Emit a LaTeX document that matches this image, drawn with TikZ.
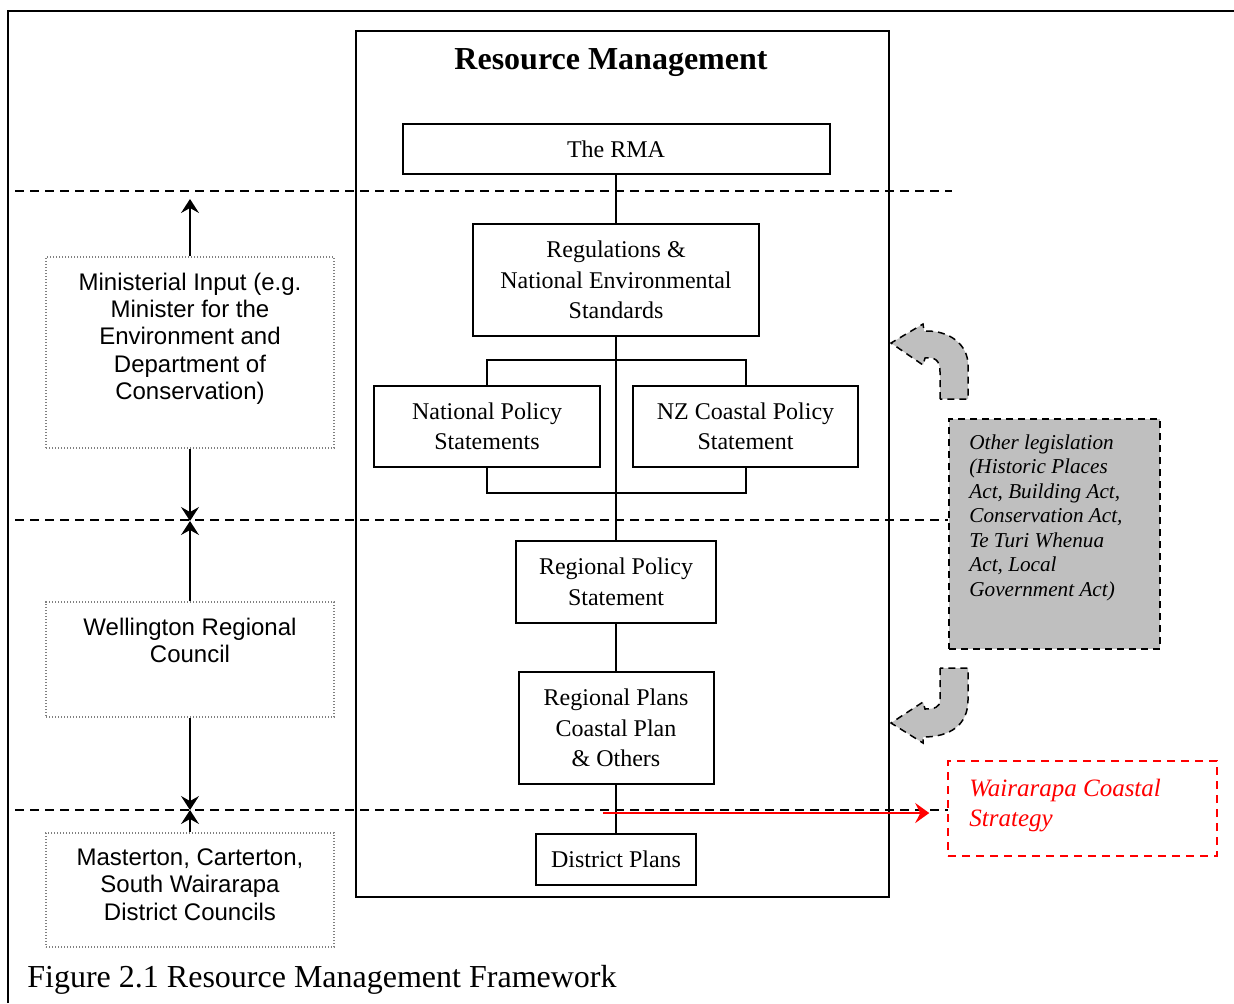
\documentclass[tikz,border=0pt]{standalone}
\usepackage{fontspec}
\setmainfont{Liberation Serif}
\newfontfamily\arialfont{Liberation Sans}
\usetikzlibrary{arrows.meta}

\begin{document}
\begin{tikzpicture}[x=0.5pt,y=-0.5pt,
  box/.style={draw,line width=1pt,inner sep=0pt,align=center,font=\fontsize{12}{15.25}\selectfont},
  leftbox/.style={draw=gray,dash pattern=on 0.6pt off 0.9pt,line width=0.6pt,minimum width=144pt,inner sep=0pt},
  lefttext/.style={anchor=north,inner sep=0pt,align=center,font=\arialfont\fontsize{12}{13.65}\selectfont},
  divider/.style={dash pattern=on 4.5pt off 3pt,line width=0.75pt},
  link/.style={line width=1pt},
  uparrow/.style={line width=0.75pt,-{Stealth[length=7pt,width=9pt,inset=2.5pt]}},
  bendarrow/.style={fill=gray!50,draw,dash pattern=on 3.5pt off 2.5pt,line width=0.75pt}]
\useasboundingbox (0,0) rectangle (1234,1003);

\draw[line width=1pt] (8,1003) -- (8,11) -- (1234,11);
\node[anchor=base west,inner sep=0pt,font=\fontsize{16}{19}\selectfont] (Caption) at (27,987) {Figure 2.1 Resource Management Framework};

\node[draw,line width=0.8pt,minimum width=266.5pt,minimum height=433pt,inner sep=0pt] (RMFrame) at (622.5,464) {};
\node[anchor=base,inner sep=0pt,font=\bfseries\fontsize{16}{19}\selectfont] (Title) at (611,69) {Resource Management};

\node[box,minimum width=213.5pt,minimum height=25pt] (RMA) at (616,149) {The RMA};
\node[box,minimum width=143pt,minimum height=56pt] (Reg) at (616,280) {Regulations \&\\National Environmental\\Standards};
\node[box,minimum width=113pt,minimum height=40.5pt] (NPS) at (487,426.5) {National Policy\\Statements};
\node[box,minimum width=112.5pt,minimum height=40.5pt] (NZCPS) at (745.5,426.5) {NZ Coastal Policy\\Statement};
\node[box,minimum width=100pt,minimum height=41pt] (RPS) at (616,582) {Regional Policy\\Statement};
\node[box,minimum width=97.5pt,minimum height=56pt] (RPlans) at (616,728) {Regional Plans\\Coastal Plan\\\& Others};
\node[box,minimum width=80pt,minimum height=25.5pt] (DP) at (616,859.5) {District Plans};

\draw[link] (RMA) -- (Reg);
\draw[link] (Reg) -- (RPS);
\draw[link] (RPS) -- (RPlans);
\draw[link] (RPlans) -- (DP);
\draw[link] (NPS.north) -- ++(0,-25) -| (NZCPS.north);
\draw[link] (NPS.south) -- ++(0,25) -| (NZCPS.south);

\draw[divider] (15,191) -- (952,191);
\draw[divider] (15,520) -- (948,520);
\draw[divider] (15,810) -- (948,810);

\node[leftbox,minimum height=95.5pt] (MinBox) at (190,352.5) {};
\node[lefttext] (MinText) at ([yshift=-8pt]MinBox.north) {Ministerial Input (e.g.\\Minister for the\\Environment and\\Department of\\Conservation)};
\node[leftbox,minimum height=57.5pt] (WelBox) at (190,659.5) {};
\node[lefttext] (WelText) at ([yshift=-8pt]WelBox.north) {Wellington Regional\\Council};
\node[leftbox,minimum height=57pt] (MasBox) at (190,890) {};
\node[lefttext] (MasText) at ([yshift=-8pt]MasBox.north) {Masterton, Carterton,\\South Wairarapa\\District Councils};

\coordinate (TopTip) at (190,199);
\coordinate (MidTip) at (190,521);
\coordinate (LowTip) at (190,810);
\draw[uparrow] (MinBox) -- (TopTip);
\draw[uparrow] (MinBox) -- (MidTip);
\draw[uparrow] (WelBox) -- (MidTip);
\draw[uparrow] (WelBox) -- (LowTip);
\draw[uparrow] (MasBox) -- (LowTip);

\node[draw,fill=gray!50,dash pattern=on 3.5pt off 2.5pt,line width=0.75pt,minimum width=105.5pt,minimum height=115pt,inner sep=0pt] (Leg) at (1054.5,534) {};
\node[anchor=north west,inner sep=0pt,align=left,font=\itshape\fontsize{10.6}{12.25}\selectfont] (LegText) at (969,434) {Other legislation\\(Historic Places\\Act, Building Act,\\Conservation Act,\\Te Turi Whenua\\Act, Local\\Government Act)};

\draw[bendarrow] (940,399) -- (940,372) .. controls (940,360) and (935,357) .. (925,358) -- (923,365) -- (891,343) -- (923,324) -- (924,331) .. controls (950,330) and (968,345) .. (968,365) -- (968,399) -- cycle;
\draw[bendarrow] (940,668) -- (940,700) .. controls (940,707) and (935,709) .. (925,709) -- (923,702) -- (891,723) -- (923,743) -- (923,737) .. controls (950,737) and (968,725) .. (968,700) -- (968,668) -- cycle;

\node[draw=red,dash pattern=on 4pt off 3pt,line width=0.75pt,minimum width=134.5pt,minimum height=47.5pt,inner sep=0pt] (WCSBox) at (1082.5,808.5) {};
\node[anchor=north west,inner sep=0pt,align=left,text=red,font=\itshape\fontsize{12.5}{15}\selectfont] (WCS) at (969,779) {Wairarapa Coastal\\Strategy};
\coordinate (RedStart) at (603,813);
\draw[red,line width=1pt,-{Stealth[length=7pt,width=10pt,inset=2.5pt]},shorten >=9pt] (RedStart) -- (WCSBox.west |- RedStart);
\end{tikzpicture}
\end{document}
